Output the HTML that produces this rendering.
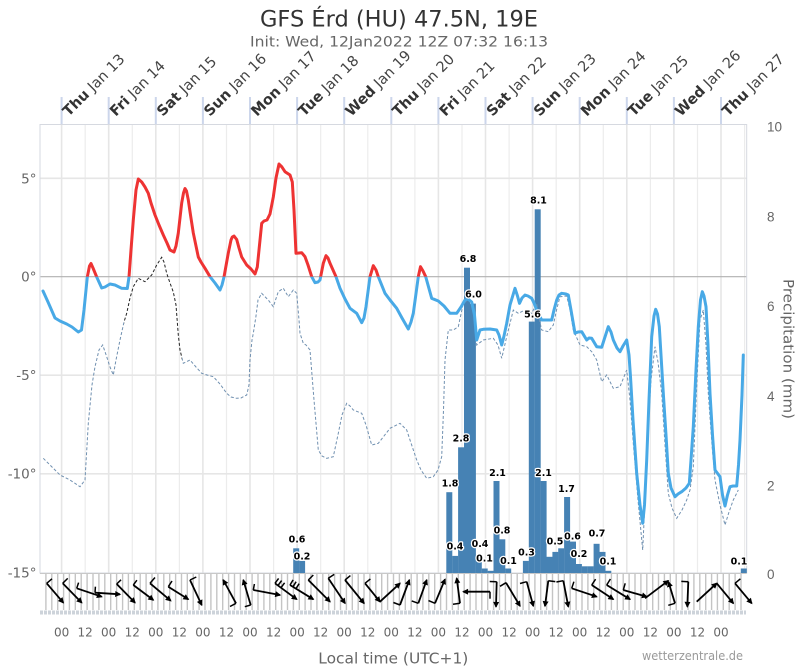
<!DOCTYPE html>
<html><head><meta charset="utf-8"><style>
html,body{margin:0;padding:0;background:#fff;}
svg{display:block;font-family:"DejaVu Sans","Liberation Sans",sans-serif;}
.dl{font-size:9.5px;font-weight:bold;fill:#000;stroke:#fff;stroke-width:2.5px;paint-order:stroke;stroke-linejoin:round;text-anchor:middle;}
.ax{font-size:13.5px;fill:#666;text-anchor:end;}
.ra{font-family:"Liberation Sans",sans-serif;font-size:13.5px;fill:#666;}
.bx{font-size:12px;fill:#666;text-anchor:middle;}
.day{font-size:14.5px;fill:#444;}
.day tspan{font-weight:bold;fill:#333;}
</style></head><body>
<svg width="800" height="666" viewBox="0 0 800 666" xmlns="http://www.w3.org/2000/svg">
<defs>
<clipPath id="above"><rect x="0" y="0" width="800" height="276.7"/></clipPath>
<clipPath id="below"><rect x="0" y="276.7" width="800" height="400"/></clipPath>
<clipPath id="dpblack"><rect x="124" y="0" width="58" height="666"/></clipPath>
<clipPath id="dpgray"><rect x="0" y="0" width="124" height="666"/><rect x="182" y="0" width="618" height="666"/></clipPath>
<marker id="ah" viewBox="0 0 10 10" refX="8" refY="5" markerWidth="7" markerHeight="6" markerUnits="userSpaceOnUse" orient="auto"><path d="M0,0 L10,5 L0,10 z" fill="#000"/></marker>
</defs>

<!-- Title -->
<text x="399" y="26.5" text-anchor="middle" font-size="22" fill="#333" textLength="278" lengthAdjust="spacingAndGlyphs">GFS Érd (HU) 47.5N, 19E</text>
<text x="399" y="46.5" text-anchor="middle" font-size="14.5" fill="#666" textLength="298" lengthAdjust="spacingAndGlyphs">Init: Wed, 12Jan2022 12Z 07:32 16:13</text>

<!-- day ticks above plot -->
<g stroke="#ccd6eb" stroke-width="2">
<line x1="61.6" y1="97" x2="61.6" y2="124"/><line x1="108.7" y1="97" x2="108.7" y2="124"/><line x1="155.8" y1="97" x2="155.8" y2="124"/><line x1="202.9" y1="97" x2="202.9" y2="124"/><line x1="250" y1="97" x2="250" y2="124"/><line x1="297.1" y1="97" x2="297.1" y2="124"/><line x1="344.2" y1="97" x2="344.2" y2="124"/><line x1="391.3" y1="97" x2="391.3" y2="124"/><line x1="438.4" y1="97" x2="438.4" y2="124"/><line x1="485.5" y1="97" x2="485.5" y2="124"/><line x1="532.6" y1="97" x2="532.6" y2="124"/><line x1="579.7" y1="97" x2="579.7" y2="124"/><line x1="626.8" y1="97" x2="626.8" y2="124"/><line x1="673.9" y1="97" x2="673.9" y2="124"/><line x1="721" y1="97" x2="721" y2="124"/>
</g>

<!-- day labels -->
<text class="day" transform="translate(68.6,117) rotate(-45)"><tspan>Thu</tspan> Jan 13</text>
<text class="day" transform="translate(115.7,117) rotate(-45)"><tspan>Fri</tspan> Jan 14</text>
<text class="day" transform="translate(162.8,117) rotate(-45)"><tspan>Sat</tspan> Jan 15</text>
<text class="day" transform="translate(209.9,117) rotate(-45)"><tspan>Sun</tspan> Jan 16</text>
<text class="day" transform="translate(257,117) rotate(-45)"><tspan>Mon</tspan> Jan 17</text>
<text class="day" transform="translate(304.1,117) rotate(-45)"><tspan>Tue</tspan> Jan 18</text>
<text class="day" transform="translate(351.2,117) rotate(-45)"><tspan>Wed</tspan> Jan 19</text>
<text class="day" transform="translate(398.3,117) rotate(-45)"><tspan>Thu</tspan> Jan 20</text>
<text class="day" transform="translate(445.4,117) rotate(-45)"><tspan>Fri</tspan> Jan 21</text>
<text class="day" transform="translate(492.5,117) rotate(-45)"><tspan>Sat</tspan> Jan 22</text>
<text class="day" transform="translate(539.6,117) rotate(-45)"><tspan>Sun</tspan> Jan 23</text>
<text class="day" transform="translate(586.7,117) rotate(-45)"><tspan>Mon</tspan> Jan 24</text>
<text class="day" transform="translate(633.8,117) rotate(-45)"><tspan>Tue</tspan> Jan 25</text>
<text class="day" transform="translate(680.9,117) rotate(-45)"><tspan>Wed</tspan> Jan 26</text>
<text class="day" transform="translate(728,117) rotate(-45)"><tspan>Thu</tspan> Jan 27</text>

<!-- vertical grid -->
<g stroke="#e6e6e6" stroke-width="1.6">
<line x1="61.6" y1="124" x2="61.6" y2="573"/><line x1="108.7" y1="124" x2="108.7" y2="573"/><line x1="155.8" y1="124" x2="155.8" y2="573"/><line x1="202.9" y1="124" x2="202.9" y2="573"/><line x1="250" y1="124" x2="250" y2="573"/><line x1="297.1" y1="124" x2="297.1" y2="573"/><line x1="344.2" y1="124" x2="344.2" y2="573"/><line x1="391.3" y1="124" x2="391.3" y2="573"/><line x1="438.4" y1="124" x2="438.4" y2="573"/><line x1="485.5" y1="124" x2="485.5" y2="573"/><line x1="532.6" y1="124" x2="532.6" y2="573"/><line x1="579.7" y1="124" x2="579.7" y2="573"/><line x1="626.8" y1="124" x2="626.8" y2="573"/><line x1="673.9" y1="124" x2="673.9" y2="573"/><line x1="721" y1="124" x2="721" y2="573"/>
</g>
<g stroke="#ececec" stroke-width="1.2">
<line x1="85.2" y1="124" x2="85.2" y2="573"/><line x1="132.3" y1="124" x2="132.3" y2="573"/><line x1="179.4" y1="124" x2="179.4" y2="573"/><line x1="226.5" y1="124" x2="226.5" y2="573"/><line x1="273.6" y1="124" x2="273.6" y2="573"/><line x1="320.7" y1="124" x2="320.7" y2="573"/><line x1="367.8" y1="124" x2="367.8" y2="573"/><line x1="414.9" y1="124" x2="414.9" y2="573"/><line x1="462" y1="124" x2="462" y2="573"/><line x1="509.1" y1="124" x2="509.1" y2="573"/><line x1="556.2" y1="124" x2="556.2" y2="573"/><line x1="603.3" y1="124" x2="603.3" y2="573"/><line x1="650.4" y1="124" x2="650.4" y2="573"/><line x1="697.5" y1="124" x2="697.5" y2="573"/><line x1="744.6" y1="124" x2="744.6" y2="573"/>
</g>
<!-- horizontal grid -->
<g stroke="#e6e6e6" stroke-width="1.6">
<line x1="40" y1="178.3" x2="746.7" y2="178.3"/><line x1="40" y1="375.2" x2="746.7" y2="375.2"/><line x1="40" y1="473.8" x2="746.7" y2="473.8"/>
</g>
<line x1="40" y1="276.7" x2="746.7" y2="276.7" stroke="#b0b0b0" stroke-width="1.2"/>
<rect x="40" y="124.5" width="706.7" height="448.5" fill="none" stroke="#d6d9e0" stroke-width="1"/>

<!-- left axis labels -->
<text class="ax" x="36.5" y="183.5">5°</text>
<text class="ax" x="36.5" y="281.5">0°</text>
<text class="ax" x="36.5" y="380">-5°</text>
<text class="ax" x="36.5" y="478.5">-10°</text>
<text class="ax" x="36.5" y="577.5">-15°</text>
<!-- right axis labels -->
<text class="ra" x="767" y="131.3">10</text>
<text class="ra" x="767" y="221.5">8</text>
<text class="ra" x="767" y="311">6</text>
<text class="ra" x="767" y="401">4</text>
<text class="ra" x="767" y="490.5">2</text>
<text class="ra" x="767" y="579">0</text>
<text transform="translate(783.5,349) rotate(90)" text-anchor="middle" font-size="14.5" fill="#666" textLength="140" lengthAdjust="spacingAndGlyphs">Precipitation (mm)</text>

<!-- precipitation bars -->
<g fill="#4682b4">
<rect x="293.2" y="548.3" width="6" height="24.7"/>
<rect x="299.1" y="560.9" width="6" height="12.1"/>
<rect x="446.3" y="492.2" width="6" height="80.8"/>
<rect x="452.2" y="555.9" width="6" height="17.1"/>
<rect x="458.1" y="447.3" width="6" height="125.7"/>
<rect x="464.0" y="267.7" width="6" height="305.3"/>
<rect x="469.9" y="303.6" width="6" height="269.4"/>
<rect x="475.8" y="555" width="6" height="18"/>
<rect x="481.7" y="568.5" width="6" height="4.5"/>
<rect x="487.6" y="570.8" width="6" height="2.2"/>
<rect x="493.5" y="481" width="6" height="92"/>
<rect x="499.3" y="539.3" width="6" height="33.7"/>
<rect x="505.2" y="568.5" width="6" height="4.5"/>
<rect x="522.9" y="560.9" width="6" height="12.1"/>
<rect x="528.8" y="321.6" width="6" height="251.4"/>
<rect x="534.7" y="209.3" width="6" height="363.7"/>
<rect x="540.6" y="481" width="6" height="92"/>
<rect x="546.5" y="556.8" width="6" height="16.2"/>
<rect x="552.4" y="551.9" width="6" height="21.1"/>
<rect x="558.2" y="548.3" width="6" height="24.7"/>
<rect x="564.1" y="497" width="6" height="76"/>
<rect x="570.0" y="541.6" width="6" height="31.4"/>
<rect x="575.9" y="564" width="6" height="9"/>
<rect x="581.8" y="566.3" width="6" height="6.7"/>
<rect x="587.7" y="566.3" width="6" height="6.7"/>
<rect x="593.6" y="543.8" width="6" height="29.2"/>
<rect x="599.5" y="551.9" width="6" height="21.1"/>
<rect x="605.3" y="570.8" width="6" height="2.2"/>
<rect x="740.8" y="568.5" width="6" height="4.5"/>
</g>

<!-- dew point -->
<g fill="none" stroke-width="1" stroke-dasharray="3,2">
<polyline clip-path="url(#dpgray)" stroke="#7090b0" points="43.3,458.3 50,465 60,475 70,480 80,486.7 85,480 88.3,423.3 92,385 95,366.7 99,350 102.7,345 106.7,356.7 110,367 113.3,375 116,360 120,340 124,322 126.7,313.3 130,298 133.3,286.7 138.3,278.3 145,281.7 151.7,275 156.7,265 161.7,257.3 164,262 166.7,273.3 170,283 173.3,292 176,305 178.3,335 180,350 183.3,363.3 190,360 196,367 201.7,373.3 207,375 213.3,376.7 220,384 226.7,393.3 231,397 236.7,398.3 241,398 246.7,395 249,385 250,360 252,340 253.3,333.3 256,316 258,300 261.7,293.3 263.3,295 268.3,300 273.3,306.7 278.3,291.7 283.3,288.3 288.3,296.7 293.3,290 296.7,293.3 299,320 300,333.3 303.3,343.3 306,345 310,350 314,400 318.3,450 322,456 326.7,458.3 333.3,456.7 338.3,433.3 342,415 346.7,403.3 350,406 353.3,410 361.7,413.3 366,425 371.7,445 378.3,443.3 384,436 390,428.3 400,423.3 406.7,430 411,443 416.7,460 421,470 426.7,478.3 433.3,476.7 438,470 441.7,456.7 443.5,410 445,360 448.3,330 453.3,330 458.3,326.7 463.3,303.3 468.3,300 473.3,306.7 476.7,345 483.3,340 493.3,338.3 498,345 501.7,358.3 506.7,336.7 513.3,310 518.3,313.3 525,310 531.7,313.3 536.7,303.3 539,318 541.7,330 548.3,331.7 553.3,325 557,308 560,296.7 566.7,296 570,310 573.3,330 580,345 586.7,346.7 592,352 596.7,360 601.7,381.7 606.7,375 613.3,388.3 620,386.7 626.7,370 630,400 633.3,443.3 638,500 642.7,550 645,500 648.3,426.7 651,380 655,346.7 658,362 661.7,393.3 665,445 668.3,493.3 672,508 676.7,518.3 682,510 686.7,500 690,490 693.3,466.7 697,380 700,320 703.3,310 706,345 708.3,393.3 712,445 715,480 720,505 725,525 729,512 733.3,500 738.3,490"/>
<polyline clip-path="url(#dpblack)" stroke="#222" points="120,340 124,322 126.7,313.3 130,298 133.3,286.7 138.3,278.3 145,281.7 151.7,275 156.7,265 161.7,257.3 164,262 166.7,273.3 170,283 173.3,292 176,305 178.3,335 180,350 183.3,363.3"/>
</g>

<!-- temperature -->
<g fill="none" stroke-width="3" stroke-linejoin="round" stroke-linecap="round">
<polyline clip-path="url(#above)" stroke="#ee3333" points="43,291 48,302 55,318 60,321 66.7,324 72,327 78.3,332 81.5,330 84,310 87.3,277 89.5,266 91,263.5 93,268 96.7,277 101.7,288 105,287 110,284 115,285 121.7,288.3 127.3,288.5 129,277 131,250 133.3,220 136,190 138.3,179 141.7,182 145,187 148.3,193.3 151,203 155,215 159,225 163.3,235 167,243 170,250 174,252 176,246 178.3,233 181.7,203 183.5,193 185,188.5 186.5,191 188.3,200 190.5,215 193.3,233 198.3,257 201,262 205,268.3 210,276.7 215,283 220,290 222,285 224,277 228.3,253 231,240 232.3,237 234,236 236.7,239.5 239,248 241.7,257 246.7,265 251,269 255,274 257.3,267 259,250 261.7,223.3 264,221 267,220 270,214 273.3,197 276,178 279,164 281.7,166.7 285,171.7 290,175 292.3,182 294,210 296,253.3 299,253 301.7,252.7 305,256.7 308,265 311.7,276.7 315,282.7 318,282 320,280 323.3,263.3 326,255.7 328,258 330,263.3 336,276.7 340,288.3 345,299 350,308.3 356.7,313.3 361.7,322.7 364,318 366,306.7 370,276.7 373.3,265.7 376,270 378.3,276.7 385,293.3 390,300 396.7,308.3 402,318 408.3,329 411,322 413.3,313.3 418.3,276.7 420.5,266.7 423,271 425.7,276.7 431.7,298.3 438.3,301 444,306 450,313.3 456.7,313.3 461,307 465,300 468,299 471.7,302 474.5,315 476.7,340 480,330 483.3,329.3 490,329 496.7,330 499,335 501.7,345 504,336 506.7,323.3 510,305 515,288.3 517.5,296 519.5,303.3 522,298 525,295 528,296 531.7,298.3 534,303 536.7,310 541.7,320 546,320 551.7,320 554,310 556.7,300 559,295 561.7,293.3 566,294 568.3,295 571,310 575,333.3 578,332 581.7,331.7 586.7,340 589,338 591.7,338.3 596.7,346.7 601.7,347.3 604,340 608.3,326.7 611,332 613.3,340 617,348 620,351.7 623,346 626.7,340 629,355 630.5,376.7 633,420 636.7,473.3 640,505 642.7,523.3 644.5,505 646.7,460 649,400 651.7,336.7 654,316 655.7,309.3 657.5,314 659.3,326.7 661,355 663.3,393.3 666,435 668.3,473.3 671,488 675,496.7 678,494 681.7,491.7 686,488 689.3,483.3 691,460 693.3,426.7 696,370 698.3,326.7 700.5,300 702.3,291.7 704,296 706,306.7 708,345 710,393.3 712.5,435 715,470 718,474 720,476.7 722.5,495 725,506 727.5,495 730,486.7 733,486 736.7,486 738.5,465 740,440 742,395 743.3,355"/>
<polyline clip-path="url(#below)" stroke="#48a9e6" points="43,291 48,302 55,318 60,321 66.7,324 72,327 78.3,332 81.5,330 84,310 87.3,277 89.5,266 91,263.5 93,268 96.7,277 101.7,288 105,287 110,284 115,285 121.7,288.3 127.3,288.5 129,277 131,250 133.3,220 136,190 138.3,179 141.7,182 145,187 148.3,193.3 151,203 155,215 159,225 163.3,235 167,243 170,250 174,252 176,246 178.3,233 181.7,203 183.5,193 185,188.5 186.5,191 188.3,200 190.5,215 193.3,233 198.3,257 201,262 205,268.3 210,276.7 215,283 220,290 222,285 224,277 228.3,253 231,240 232.3,237 234,236 236.7,239.5 239,248 241.7,257 246.7,265 251,269 255,274 257.3,267 259,250 261.7,223.3 264,221 267,220 270,214 273.3,197 276,178 279,164 281.7,166.7 285,171.7 290,175 292.3,182 294,210 296,253.3 299,253 301.7,252.7 305,256.7 308,265 311.7,276.7 315,282.7 318,282 320,280 323.3,263.3 326,255.7 328,258 330,263.3 336,276.7 340,288.3 345,299 350,308.3 356.7,313.3 361.7,322.7 364,318 366,306.7 370,276.7 373.3,265.7 376,270 378.3,276.7 385,293.3 390,300 396.7,308.3 402,318 408.3,329 411,322 413.3,313.3 418.3,276.7 420.5,266.7 423,271 425.7,276.7 431.7,298.3 438.3,301 444,306 450,313.3 456.7,313.3 461,307 465,300 468,299 471.7,302 474.5,315 476.7,340 480,330 483.3,329.3 490,329 496.7,330 499,335 501.7,345 504,336 506.7,323.3 510,305 515,288.3 517.5,296 519.5,303.3 522,298 525,295 528,296 531.7,298.3 534,303 536.7,310 541.7,320 546,320 551.7,320 554,310 556.7,300 559,295 561.7,293.3 566,294 568.3,295 571,310 575,333.3 578,332 581.7,331.7 586.7,340 589,338 591.7,338.3 596.7,346.7 601.7,347.3 604,340 608.3,326.7 611,332 613.3,340 617,348 620,351.7 623,346 626.7,340 629,355 630.5,376.7 633,420 636.7,473.3 640,505 642.7,523.3 644.5,505 646.7,460 649,400 651.7,336.7 654,316 655.7,309.3 657.5,314 659.3,326.7 661,355 663.3,393.3 666,435 668.3,473.3 671,488 675,496.7 678,494 681.7,491.7 686,488 689.3,483.3 691,460 693.3,426.7 696,370 698.3,326.7 700.5,300 702.3,291.7 704,296 706,306.7 708,345 710,393.3 712.5,435 715,470 718,474 720,476.7 722.5,495 725,506 727.5,495 730,486.7 733,486 736.7,486 738.5,465 740,440 742,395 743.3,355"/>
</g>

<!-- data labels -->
<text class="dl" x="297" y="542.5">0.6</text>
<text class="dl" x="302" y="559.5">0.2</text>
<text class="dl" x="450" y="486.5">1.8</text>
<text class="dl" x="455" y="549.5">0.4</text>
<text class="dl" x="461" y="441.5">2.8</text>
<text class="dl" x="468" y="262">6.8</text>
<text class="dl" x="473.5" y="297.5">6.0</text>
<text class="dl" x="480" y="547">0.4</text>
<text class="dl" x="484.5" y="561.5">0.1</text>
<text class="dl" x="497.5" y="476">2.1</text>
<text class="dl" x="502" y="533.5">0.8</text>
<text class="dl" x="508.5" y="564">0.1</text>
<text class="dl" x="526.5" y="555.5">0.3</text>
<text class="dl" x="532.5" y="317.5">5.6</text>
<text class="dl" x="538.5" y="203.5">8.1</text>
<text class="dl" x="543.5" y="476">2.1</text>
<text class="dl" x="555" y="544.5">0.5</text>
<text class="dl" x="566.5" y="492">1.7</text>
<text class="dl" x="572.5" y="539.5">0.6</text>
<text class="dl" x="579" y="557">0.2</text>
<text class="dl" x="597" y="536.5">0.7</text>
<text class="dl" x="608" y="564.5">0.1</text>
<text class="dl" x="739" y="564.5">0.1</text>

<!-- wind strip -->
<line x1="40" y1="573.5" x2="746.7" y2="573.5" stroke="#c8c8c8" stroke-width="1"/>
<g stroke="#c4c4c4" stroke-width="1.4">
<line x1="45.9" y1="574" x2="45.9" y2="610"/><line x1="51.8" y1="574" x2="51.8" y2="610"/><line x1="57.7" y1="574" x2="57.7" y2="610"/><line x1="63.6" y1="574" x2="63.6" y2="610"/><line x1="69.4" y1="574" x2="69.4" y2="610"/><line x1="75.3" y1="574" x2="75.3" y2="610"/><line x1="81.2" y1="574" x2="81.2" y2="610"/><line x1="87.1" y1="574" x2="87.1" y2="610"/><line x1="93" y1="574" x2="93" y2="610"/><line x1="98.9" y1="574" x2="98.9" y2="610"/><line x1="104.8" y1="574" x2="104.8" y2="610"/><line x1="110.7" y1="574" x2="110.7" y2="610"/><line x1="116.6" y1="574" x2="116.6" y2="610"/><line x1="122.6" y1="574" x2="122.6" y2="610"/><line x1="128.4" y1="574" x2="128.4" y2="610"/><line x1="134.3" y1="574" x2="134.3" y2="610"/><line x1="140.2" y1="574" x2="140.2" y2="610"/><line x1="146.1" y1="574" x2="146.1" y2="610"/><line x1="152" y1="574" x2="152" y2="610"/><line x1="157.9" y1="574" x2="157.9" y2="610"/><line x1="163.8" y1="574" x2="163.8" y2="610"/><line x1="169.7" y1="574" x2="169.7" y2="610"/><line x1="175.6" y1="574" x2="175.6" y2="610"/><line x1="181.5" y1="574" x2="181.5" y2="610"/><line x1="187.3" y1="574" x2="187.3" y2="610"/><line x1="193.2" y1="574" x2="193.2" y2="610"/><line x1="199.1" y1="574" x2="199.1" y2="610"/><line x1="205" y1="574" x2="205" y2="610"/><line x1="210.9" y1="574" x2="210.9" y2="610"/><line x1="216.8" y1="574" x2="216.8" y2="610"/><line x1="222.7" y1="574" x2="222.7" y2="610"/><line x1="228.6" y1="574" x2="228.6" y2="610"/><line x1="234.5" y1="574" x2="234.5" y2="610"/><line x1="240.4" y1="574" x2="240.4" y2="610"/><line x1="246.2" y1="574" x2="246.2" y2="610"/><line x1="252.1" y1="574" x2="252.1" y2="610"/><line x1="258" y1="574" x2="258" y2="610"/><line x1="263.9" y1="574" x2="263.9" y2="610"/><line x1="269.8" y1="574" x2="269.8" y2="610"/><line x1="275.7" y1="574" x2="275.7" y2="610"/><line x1="281.6" y1="574" x2="281.6" y2="610"/><line x1="287.5" y1="574" x2="287.5" y2="610"/><line x1="293.4" y1="574" x2="293.4" y2="610"/><line x1="299.3" y1="574" x2="299.3" y2="610"/><line x1="305.1" y1="574" x2="305.1" y2="610"/><line x1="311" y1="574" x2="311" y2="610"/><line x1="316.9" y1="574" x2="316.9" y2="610"/><line x1="322.8" y1="574" x2="322.8" y2="610"/><line x1="328.7" y1="574" x2="328.7" y2="610"/><line x1="334.6" y1="574" x2="334.6" y2="610"/><line x1="340.5" y1="574" x2="340.5" y2="610"/><line x1="346.4" y1="574" x2="346.4" y2="610"/><line x1="352.3" y1="574" x2="352.3" y2="610"/><line x1="358.2" y1="574" x2="358.2" y2="610"/><line x1="364" y1="574" x2="364" y2="610"/><line x1="369.9" y1="574" x2="369.9" y2="610"/><line x1="375.8" y1="574" x2="375.8" y2="610"/><line x1="381.7" y1="574" x2="381.7" y2="610"/><line x1="387.6" y1="574" x2="387.6" y2="610"/><line x1="393.5" y1="574" x2="393.5" y2="610"/><line x1="399.4" y1="574" x2="399.4" y2="610"/><line x1="405.3" y1="574" x2="405.3" y2="610"/><line x1="411.2" y1="574" x2="411.2" y2="610"/><line x1="417.1" y1="574" x2="417.1" y2="610"/><line x1="422.9" y1="574" x2="422.9" y2="610"/><line x1="428.8" y1="574" x2="428.8" y2="610"/><line x1="434.7" y1="574" x2="434.7" y2="610"/><line x1="440.6" y1="574" x2="440.6" y2="610"/><line x1="446.5" y1="574" x2="446.5" y2="610"/><line x1="452.4" y1="574" x2="452.4" y2="610"/><line x1="458.3" y1="574" x2="458.3" y2="610"/><line x1="464.2" y1="574" x2="464.2" y2="610"/><line x1="470.1" y1="574" x2="470.1" y2="610"/><line x1="476" y1="574" x2="476" y2="610"/><line x1="481.8" y1="574" x2="481.8" y2="610"/><line x1="487.7" y1="574" x2="487.7" y2="610"/><line x1="493.6" y1="574" x2="493.6" y2="610"/><line x1="499.5" y1="574" x2="499.5" y2="610"/><line x1="505.4" y1="574" x2="505.4" y2="610"/><line x1="511.3" y1="574" x2="511.3" y2="610"/><line x1="517.2" y1="574" x2="517.2" y2="610"/><line x1="523.1" y1="574" x2="523.1" y2="610"/><line x1="529" y1="574" x2="529" y2="610"/><line x1="534.9" y1="574" x2="534.9" y2="610"/><line x1="540.7" y1="574" x2="540.7" y2="610"/><line x1="546.6" y1="574" x2="546.6" y2="610"/><line x1="552.5" y1="574" x2="552.5" y2="610"/><line x1="558.4" y1="574" x2="558.4" y2="610"/><line x1="564.3" y1="574" x2="564.3" y2="610"/><line x1="570.2" y1="574" x2="570.2" y2="610"/><line x1="576.1" y1="574" x2="576.1" y2="610"/><line x1="582" y1="574" x2="582" y2="610"/><line x1="587.9" y1="574" x2="587.9" y2="610"/><line x1="593.8" y1="574" x2="593.8" y2="610"/><line x1="599.6" y1="574" x2="599.6" y2="610"/><line x1="605.5" y1="574" x2="605.5" y2="610"/><line x1="611.4" y1="574" x2="611.4" y2="610"/><line x1="617.3" y1="574" x2="617.3" y2="610"/><line x1="623.2" y1="574" x2="623.2" y2="610"/><line x1="629.1" y1="574" x2="629.1" y2="610"/><line x1="635" y1="574" x2="635" y2="610"/><line x1="640.9" y1="574" x2="640.9" y2="610"/><line x1="646.8" y1="574" x2="646.8" y2="610"/><line x1="652.7" y1="574" x2="652.7" y2="610"/><line x1="658.5" y1="574" x2="658.5" y2="610"/><line x1="664.4" y1="574" x2="664.4" y2="610"/><line x1="670.3" y1="574" x2="670.3" y2="610"/><line x1="676.2" y1="574" x2="676.2" y2="610"/><line x1="682.1" y1="574" x2="682.1" y2="610"/><line x1="688" y1="574" x2="688" y2="610"/><line x1="693.9" y1="574" x2="693.9" y2="610"/><line x1="699.8" y1="574" x2="699.8" y2="610"/><line x1="705.7" y1="574" x2="705.7" y2="610"/><line x1="711.6" y1="574" x2="711.6" y2="610"/><line x1="717.4" y1="574" x2="717.4" y2="610"/><line x1="723.3" y1="574" x2="723.3" y2="610"/><line x1="729.2" y1="574" x2="729.2" y2="610"/><line x1="735.1" y1="574" x2="735.1" y2="610"/><line x1="741" y1="574" x2="741" y2="610"/>
</g>
<line x1="40" y1="612.5" x2="746" y2="612.5" stroke="#cdd3da" stroke-width="4" stroke-dasharray="3,1"/>

<!-- wind arrows -->
<g stroke="#000" stroke-width="1.8" fill="none" marker-end="url(#ah)">
<line x1="46.7" y1="583.3" x2="63.3" y2="602.7"/>
<line x1="62.7" y1="583.3" x2="81.7" y2="602.7"/>
<line x1="76.7" y1="588.3" x2="101.7" y2="596.7"/>
<line x1="95" y1="592.7" x2="120" y2="594.3"/>
<line x1="116.7" y1="584" x2="135" y2="602.7"/>
<line x1="133.3" y1="585" x2="153.3" y2="600"/>
<line x1="150" y1="583.3" x2="170.7" y2="600.7"/>
<line x1="168.3" y1="586.7" x2="188.3" y2="599.3"/>
<line x1="190" y1="580" x2="201.7" y2="605"/>
<line x1="236" y1="603.3" x2="223.3" y2="580"/>
<line x1="250.7" y1="605" x2="243.3" y2="580"/>
<line x1="253.3" y1="590" x2="280" y2="595"/>
<line x1="275" y1="583.3" x2="296.7" y2="599.3"/>
<line x1="290" y1="585" x2="313.3" y2="599.3"/>
<line x1="308.3" y1="580" x2="330" y2="601.7"/>
<line x1="328.3" y1="578.3" x2="345" y2="603.3"/>
<line x1="345" y1="580" x2="364" y2="603.3"/>
<line x1="365" y1="583.3" x2="380" y2="601.7"/>
<line x1="380" y1="601.7" x2="400" y2="583.3"/>
<line x1="400" y1="605" x2="409.3" y2="580"/>
<line x1="418.3" y1="603.3" x2="426.7" y2="580"/>
<line x1="435" y1="603.3" x2="445" y2="579.3"/>
<line x1="460" y1="603.3" x2="456.7" y2="578.3"/>
<line x1="490" y1="591.7" x2="463.3" y2="591.7"/>
<line x1="496.7" y1="581.7" x2="496" y2="606.7"/>
<line x1="506" y1="582.7" x2="520" y2="606"/>
<line x1="526.7" y1="581.7" x2="533.3" y2="606"/>
<line x1="548.3" y1="580.7" x2="545" y2="606"/>
<line x1="563.3" y1="580.7" x2="568.3" y2="606.7"/>
<line x1="571.7" y1="588.3" x2="596.7" y2="596.7"/>
<line x1="591.7" y1="585" x2="613.3" y2="599.3"/>
<line x1="606.7" y1="585" x2="630" y2="599.3"/>
<line x1="623.3" y1="590" x2="646.7" y2="596.7"/>
<line x1="645" y1="598.3" x2="668.3" y2="580.7"/>
<line x1="675" y1="603.3" x2="668.5" y2="582"/>
<line x1="688.3" y1="581.7" x2="687.3" y2="606.7"/>
<line x1="696.7" y1="601.7" x2="716.7" y2="583.3"/>
<line x1="716.7" y1="583.3" x2="733.3" y2="603.3"/>
<line x1="735" y1="583.3" x2="751.7" y2="603.3"/>
</g>
<!-- barbs -->
<g stroke="#000" stroke-width="1.5">
<line x1="46.7" y1="583.3" x2="52" y2="578.8"/>
<line x1="62.7" y1="583.3" x2="67.7" y2="578.4"/>
<line x1="76.7" y1="588.3" x2="78.6" y2="582.6"/>
<line x1="95" y1="592.7" x2="95.4" y2="586.7"/>
<line x1="116.7" y1="584" x2="121" y2="579.8"/>
<line x1="133.3" y1="585" x2="136.9" y2="580.2"/>
<line x1="150" y1="583.3" x2="155" y2="577.5"/>
<line x1="168.3" y1="586.7" x2="172" y2="581"/>
<line x1="190" y1="580" x2="196.3" y2="577"/>
<line x1="236" y1="603.3" x2="230" y2="606.5"/>
<line x1="250.7" y1="605" x2="244.8" y2="606.7"/>
<line x1="253.3" y1="590" x2="254.4" y2="584"/>
<line x1="275" y1="583.3" x2="278.6" y2="578.4"/>
<line x1="278" y1="585.5" x2="281.6" y2="580.6"/>
<line x1="281" y1="587.7" x2="284.6" y2="582.8"/>
<line x1="290" y1="585" x2="293.1" y2="579.9"/>
<line x1="293" y1="586.8" x2="296.1" y2="581.7"/>
<line x1="296" y1="588.7" x2="299.1" y2="583.6"/>
<line x1="308.3" y1="580" x2="313.3" y2="575"/>
<line x1="328.3" y1="578.3" x2="334.2" y2="574.4"/>
<line x1="345" y1="580" x2="350.4" y2="575.6"/>
<line x1="365" y1="583.3" x2="370.4" y2="578.9"/>
<line x1="380" y1="601.7" x2="375.2" y2="596.5"/>
<line x1="400" y1="605" x2="393.4" y2="602.5"/>
<line x1="418.3" y1="603.3" x2="411.7" y2="600.9"/>
<line x1="435" y1="603.3" x2="428.5" y2="600.6"/>
<line x1="460" y1="603.3" x2="453" y2="604.2"/>
<line x1="490" y1="591.7" x2="490" y2="598.7"/>
<line x1="496.7" y1="581.7" x2="489.7" y2="581.5"/>
<line x1="506" y1="582.7" x2="500" y2="586.3"/>
<line x1="526.7" y1="581.7" x2="520" y2="583.5"/>
<line x1="548.3" y1="580.7" x2="555.3" y2="581.6"/>
<line x1="563.3" y1="580.7" x2="556.4" y2="582"/>
<line x1="571.7" y1="588.3" x2="573.9" y2="581.7"/>
<line x1="591.7" y1="585" x2="595.6" y2="579.2"/>
<line x1="606.7" y1="585" x2="610.4" y2="579"/>
<line x1="623.3" y1="590" x2="625.2" y2="583.3"/>
<line x1="675" y1="603.3" x2="668.3" y2="605.3"/>
<line x1="688.3" y1="581.7" x2="681.3" y2="581.4"/>
<line x1="735" y1="583.3" x2="740.4" y2="578.8"/>
</g>

<!-- bottom axis labels -->
<g class="bx">
<text x="61.6" y="636.7">00</text><text x="85.2" y="636.7">12</text>
<text x="108.7" y="636.7">00</text><text x="132.3" y="636.7">12</text>
<text x="155.8" y="636.7">00</text><text x="179.4" y="636.7">12</text>
<text x="202.9" y="636.7">00</text><text x="226.5" y="636.7">12</text>
<text x="250" y="636.7">00</text><text x="273.6" y="636.7">12</text>
<text x="297.1" y="636.7">00</text><text x="320.7" y="636.7">12</text>
<text x="344.2" y="636.7">00</text><text x="367.8" y="636.7">12</text>
<text x="391.3" y="636.7">00</text><text x="414.9" y="636.7">12</text>
<text x="438.4" y="636.7">00</text><text x="462" y="636.7">12</text>
<text x="485.5" y="636.7">00</text><text x="509.1" y="636.7">12</text>
<text x="532.6" y="636.7">00</text><text x="556.2" y="636.7">12</text>
<text x="579.7" y="636.7">00</text><text x="603.3" y="636.7">12</text>
<text x="626.8" y="636.7">00</text><text x="650.4" y="636.7">12</text>
<text x="673.9" y="636.7">00</text><text x="697.5" y="636.7">12</text>
<text x="721" y="636.7">00</text>
</g>
<text x="393.3" y="663.5" text-anchor="middle" font-size="15" fill="#666" textLength="150" lengthAdjust="spacingAndGlyphs">Local time (UTC+1)</text>
<text x="642" y="660" font-size="12" fill="#999" textLength="101" lengthAdjust="spacingAndGlyphs">wetterzentrale.de</text>
</svg>
</body></html>
